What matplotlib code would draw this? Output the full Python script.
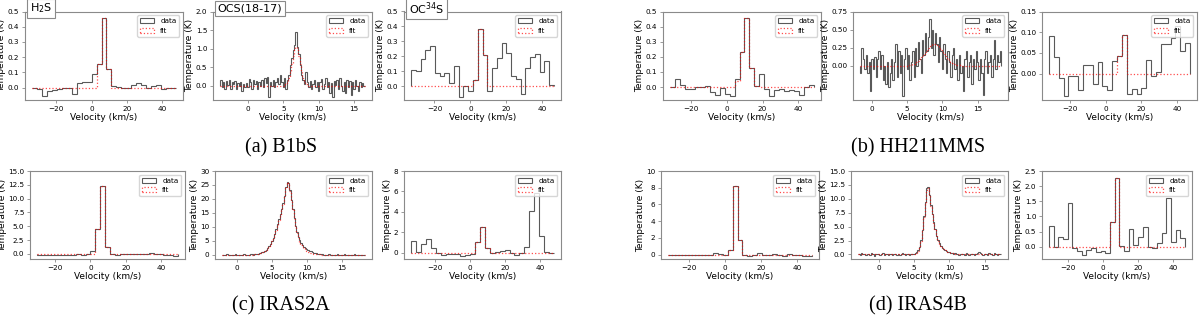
import numpy as np
import matplotlib.pyplot as plt
from matplotlib.ticker import MultipleLocator

# ---- B1bS ----
b1bs_h2s_v0, b1bs_h2s_dv = -33.6, 2.8
b1bs_h2s_data = [0.0, -0.01, -0.055, -0.02, -0.015, -0.01, -0.005, 0.0, -0.04, 0.03,
                 0.04, 0.04, 0.09, 0.155, 0.46, 0.12, 0.01, 0.005, 0.0, -0.005,
                 0.02, 0.03, 0.02, 0.0, 0.01, 0.02, -0.01, 0.0, -0.005]
b1bs_h2s_fit = [0.0] * 13 + [0.155, 0.46, 0.12] + [0.0] * 13

b1bs_ocs_v0, b1bs_ocs_dv = -3.9, 0.2
b1bs_ocs_data = [0.15, -0.05, 0.1, -0.1, 0.12, 0.02, 0.14, -0.08, 0.1, 0.05,
                 0.13, -0.1, 0.08, -0.02, 0.1, -0.15, 0.05, -0.05, 0.08, -0.05,
                 0.18, 0.1, -0.1, 0.15, 0.05, 0.12, -0.08, 0.1, 0.0, 0.15,
                 -0.05, 0.2, 0.08, 0.22, -0.3, 0.1, 0.0, 0.15, -0.05, 0.1,
                 0.2, 0.05, 0.28, 0.1, -0.05, 0.2, -0.1, 0.15, 0.3, 0.55,
                 0.75, 0.95, 1.1, 1.45, 1.05, 0.85, 0.55, 0.3, 0.15, 0.05,
                 0.38, 0.1, -0.05, 0.12, -0.1, 0.05, 0.15, -0.05, 0.1, -0.15,
                 0.1, 0.18, -0.1, 0.05, 0.2, -0.05, 0.1, -0.2, 0.08, -0.3,
                 0.12, 0.02, 0.15, -0.1, 0.2, 0.0, -0.15, 0.1, -0.2, 0.15,
                 -0.05, 0.12, -0.25, 0.1, -0.1, 0.15, 0.0, -0.15, 0.1, -0.05,
                 0.08, 0.0]
b1bs_ocs_fit = ([0.0] * 46
                + [0.04, 0.1, 0.2, 0.36, 0.58, 0.8, 0.98, 1.05, 0.98, 0.8,
                   0.58, 0.36, 0.2, 0.1, 0.04, 0.01]
                + [0.0] * 40)

b1bs_oc34s_v0, b1bs_oc34s_dv = -33.0, 2.65
b1bs_oc34s_data = [0.11, 0.10, 0.18, 0.245, 0.27, 0.085, 0.065, 0.09, 0.02, 0.135,
                   -0.07, 0.0, -0.03, 0.04, 0.38, 0.21, -0.03, 0.125, 0.19, 0.29,
                   0.22, 0.065, 0.05, -0.055, 0.125, 0.195, 0.215, 0.095, 0.17, 0.01]
b1bs_oc34s_fit = [0.0] * 13 + [0.04, 0.38, 0.21] + [0.0] * 14

# ---- HH211MMS ----
hh211_h2s_v0, hh211_h2s_dv = -31.5, 2.76
hh211_h2s_data = [0.0, 0.05, 0.015, -0.013, -0.01, 0.0, 0.0, 0.01, -0.035, -0.055,
                  -0.005, -0.045, -0.06, 0.055, 0.23, 0.46, 0.125, 0.01, 0.085, -0.013,
                  -0.057, -0.02, -0.01, -0.025, -0.02, -0.025, -0.05, 0.0, 0.015]
hh211_h2s_fit = [0.0] * 13 + [0.04, 0.23, 0.46, 0.125, 0.01] + [0.0] * 11

hh211_ocs_v0, hh211_ocs_dv = -1.7, 0.2
hh211_ocs_data = [-0.1, 0.25, 0.1, -0.05, 0.15, -0.1, 0.05, -0.35, 0.1, -0.05,
                  0.12, -0.15, 0.1, 0.2, -0.05, 0.15, -0.2, 0.0, -0.25, 0.05,
                  -0.3, -0.1, 0.1, -0.2, 0.05, 0.3, -0.15, 0.2, -0.1, 0.15,
                  -0.42, 0.1, 0.25, -0.05, 0.15, -0.2, 0.05, 0.2, -0.15, 0.25,
                  0.0, 0.33, 0.1, -0.1, 0.35, 0.15, 0.45, 0.2, 0.4, 0.65,
                  0.25, 0.5, 0.15, 0.45, 0.3, 0.05, 0.4, 0.2, -0.05, 0.3,
                  0.1, -0.1, 0.2, 0.05, -0.15, 0.15, 0.25, -0.05, 0.1, -0.2,
                  0.15, -0.1, 0.0, -0.35, 0.1, 0.2, -0.15, 0.05, 0.15, -0.25,
                  0.1, -0.05, 0.2, 0.05, -0.2, 0.1, -0.1, -0.4, 0.1, 0.2,
                  -0.1, 0.05, 0.15, -0.15, 0.1, 0.35, -0.05, 0.15, 0.05, 0.2]
hh211_ocs_wing = [0.004, 0.006, 0.010, 0.015, 0.021, 0.030, 0.041, 0.055, 0.072, 0.092,
                  0.115, 0.141, 0.168, 0.195, 0.222, 0.247, 0.269, 0.287, 0.297]
hh211_ocs_fit = [0.0] * 33 + hh211_ocs_wing + [0.3] + hh211_ocs_wing[::-1] + [0.0] * 28

hh211_oc34s_v0, hh211_oc34s_dv = -31.7, 2.72
hh211_oc34s_data = [0.09, 0.04, -0.01, -0.055, -0.005, -0.005, -0.04, 0.022, 0.02, -0.025,
                    0.027, -0.03, -0.04, 0.03, 0.043, 0.093, -0.05, -0.038, -0.05, -0.035,
                    0.033, -0.005, 0.005, 0.072, 0.072, 0.085, 0.115, 0.055, 0.075]
hh211_oc34s_fit = [0.0] * 14 + [0.043, 0.093] + [0.0] * 13

# ---- IRAS2A ----
iras2a_h2s_v0, iras2a_h2s_dv = -30.25, 2.75
iras2a_h2s_data = [-0.15, -0.2, -0.25, -0.2, -0.15, -0.2, -0.25, -0.15, -0.1, -0.15,
                   -0.05, 0.45, 4.5, 12.2, 1.2, -0.1, -0.15, -0.1, -0.05, 0.0,
                   -0.05, -0.1, 0.05, 0.1, 0.0, -0.05, -0.2, -0.15, -0.3]
iras2a_h2s_fit = [0.0] * 11 + [0.05, 4.5, 12.2, 1.2, 0.05] + [0.0] * 13

iras2a_ocs_v0, iras2a_ocs_dv = -2.1, 0.2
iras2a_ocs_data = [0.1, -0.1, 0.05, 0.15, -0.05, 0.0, 0.1, -0.15, 0.05, 0.2,
                   0.0, -0.1, 0.1, 0.05, -0.05, 0.15, 0.0, 0.1, -0.1, 0.05,
                   0.15,
                   0.2, 0.1, 0.3, 0.35, 0.45, 0.6, 0.8, 0.95, 1.2, 1.5,
                   1.9, 2.5, 3.2, 4.0, 5.0, 6.2, 7.6, 9.2, 11.0, 12.9,
                   14.6, 16.3, 18.5, 21.2, 24.3, 26.2, 25.6, 23.2, 19.8, 16.4,
                   13.2, 10.5, 8.3, 6.5, 5.2, 4.2, 3.5, 2.9, 2.5, 2.1,
                   1.8, 1.5, 1.25, 1.0, 0.8, 0.6, 0.5, 0.35, 0.3, 0.2,
                   0.15, 0.0, 0.1, -0.1, 0.05, 0.2, 0.0, -0.05, 0.1, 0.0,
                   -0.1, 0.15, 0.05, 0.0, -0.05, 0.1, 0.2, 0.0, -0.1, 0.05,
                   0.1, -0.05, 0.0, 0.15, -0.1, 0.05, 0.0, -0.15, 0.1, 0.0,
                   0.05]
iras2a_ocs_fit = ([0.0] * 21
                  + [0.1, 0.15, 0.25, 0.3, 0.4, 0.55, 0.7, 0.9, 1.15, 1.45,
                     1.85, 2.4, 3.1, 3.9, 4.9, 6.0, 7.3, 8.8, 10.5, 12.4,
                     14.2, 16.0, 18.3, 21.0, 24.0, 26.0, 25.5, 23.0, 19.5, 16.0,
                     12.8, 10.0, 7.8, 6.0, 4.7, 3.7, 3.0, 2.4, 1.9, 1.5,
                     1.2, 0.95, 0.75, 0.6, 0.45, 0.35, 0.25, 0.2, 0.15, 0.1]
                  + [0.0] * 31)

iras2a_oc34s_v0, iras2a_oc34s_dv = -33.4, 2.8
iras2a_oc34s_data = [1.15, 0.1, 0.85, 1.35, 0.5, 0.0, -0.2, -0.1, -0.15, -0.1,
                     -0.3, -0.2, -0.1, 1.1, 2.5, 0.5, 0.0, 0.05, 0.2, 0.3,
                     0.0, -0.25, 0.0, 0.6, 4.1, 5.8, 1.6, 0.1, -0.05]
iras2a_oc34s_fit = [0.0] * 13 + [1.1, 2.5, 0.5] + [0.0] * 13

# ---- IRAS4B ----
iras4b_h2s_v0, iras4b_h2s_dv = -31.8, 2.76
iras4b_h2s_data = [0.0, -0.05, -0.05, -0.05, -0.05, -0.05, -0.05, -0.05, -0.05, 0.25,
                   0.1, -0.05, 0.6, 8.25, 1.8, -0.05, -0.1, 0.0, 0.15, 0.0,
                   -0.05, 0.05, -0.05, -0.1, 0.05, 0.0, -0.05, -0.1, -0.1]
iras4b_h2s_fit = [0.0] * 12 + [0.6, 8.25, 1.8] + [0.0] * 14

iras4b_ocs_v0, iras4b_ocs_dv = -2.9, 0.2
iras4b_ocs_data = [0.1, -0.15, 0.2, 0.0, 0.1, -0.1, 0.15, 0.05, -0.05, 0.2,
                   0.0, -0.2, 0.1, 0.05, 0.15, -0.1, 0.0, 0.2, -0.05, 0.1,
                   0.0, -0.15, 0.1, 0.05, -0.1, 0.15, 0.0, -0.05, 0.1, -0.15,
                   0.05, 0.2, 0.0, -0.1, 0.1, 0.05, -0.05, 0.15, 0.1,
                   0.15, 0.3, 0.4, 0.8, 1.4, 2.6, 4.4, 6.9, 9.5, 11.9,
                   12.1, 10.7, 8.8, 7.3, 5.8, 4.5, 3.4, 2.6, 2.0, 1.5,
                   1.2, 1.0, 0.8, 0.6, 0.5, 0.5, 0.35, 0.3, 0.15, 0.25,
                   0.1,
                   0.05, -0.1, 0.15, 0.0, 0.1, -0.05, 0.2, 0.0, -0.1, 0.1,
                   0.05, 0.15, -0.05, 0.0, 0.3, 0.5, 0.2, 0.0, -0.1, 0.1,
                   0.05, -0.15, 0.2, 0.0, 0.1, -0.1, 0.25, 0.05, -0.05, 0.1,
                   0.0]
iras4b_ocs_fit = ([0.0] * 39
                  + [0.1, 0.2, 0.35, 0.7, 1.3, 2.5, 4.3, 6.7, 9.3, 11.6,
                     11.9, 10.6, 8.7, 7.2, 5.7, 4.4, 3.3, 2.5, 1.85, 1.45,
                     1.15, 0.9, 0.72, 0.58, 0.47, 0.38, 0.3, 0.24, 0.19, 0.15,
                     0.1]
                  + [0.0] * 31)

iras4b_oc34s_v0, iras4b_oc34s_dv = -31.0, 2.69
iras4b_oc34s_data = [0.68, -0.02, 0.33, 0.25, 1.45, -0.05, -0.15, -0.28, -0.1, -0.05,
                     -0.18, -0.15, -0.2, 0.82, 2.27, 0.03, -0.15, 0.57, 0.05, 0.33,
                     0.65, 0.0, -0.03, 0.13, 0.45, 1.62, 0.17, 0.56, 0.3]
iras4b_oc34s_fit = [0.0] * 13 + [0.82, 2.27] + [0.0] * 14

titles_b1bs = ['H$_2$S', 'OCS(18-17)', 'OC$^{34}$S']
captions = ['(a) B1bS', '(b) HH211MMS', '(c) IRAS2A', '(d) IRAS4B']

FRAME = '#8a8a8a'


def draw_spectrum(ax, v0, dv, data, fit, yticks, xstep, title=None):
    e_d = v0 + dv * np.arange(len(data) + 1)
    e_f = v0 + dv * np.arange(len(fit) + 1)
    ax.hist(0.5 * (e_d[:-1] + e_d[1:]), bins=e_d, weights=data, histtype='step',
            color='black', alpha=0.65, lw=0.8, label='data')
    ax.hist(0.5 * (e_f[:-1] + e_f[1:]), bins=e_f, weights=fit, histtype='step',
            color='red', ls=':', alpha=0.7, lw=0.9, label='fit')
    ax.set_ylim(top=yticks[-1])
    ax.set_yticks(yticks)
    ax.xaxis.set_major_locator(MultipleLocator(xstep))
    ax.set_xlabel('Velocity (km/s)', fontsize=6.5, labelpad=1)
    ax.set_ylabel('Temperature (K)', fontsize=6.5, labelpad=1)
    ax.tick_params(labelsize=5.2, length=2.5, width=0.6, color=FRAME, pad=1.5)
    for s in ax.spines.values():
        s.set_color(FRAME)
        s.set_linewidth(0.8)
    ax.legend(loc='upper right', fontsize=5.2)
    if title:
        ax.text(0.03, 1.035, title, transform=ax.transAxes, fontsize=8,
                ha='left', va='center',
                bbox=dict(boxstyle='square,pad=0.25', fc='white', ec=FRAME, lw=0.8))


fig = plt.figure(figsize=(12, 3.17), dpi=100)
W, H = 1200, 317


def add_ax(x0, x1, ytop, ybot):
    return fig.add_axes([x0 / W, 1 - ybot / H, (x1 - x0) / W, (ybot - ytop) / H])


# row 1
ax = add_ax(25, 183, 11.5, 100)
draw_spectrum(ax, b1bs_h2s_v0, b1bs_h2s_dv, b1bs_h2s_data, b1bs_h2s_fit,
              [0.0, 0.1, 0.2, 0.3, 0.4, 0.5], 20, titles_b1bs[0])
ax = add_ax(213, 372, 11.5, 100)
draw_spectrum(ax, b1bs_ocs_v0, b1bs_ocs_dv, b1bs_ocs_data, b1bs_ocs_fit,
              [0.0, 0.5, 1.0, 1.5, 2.0], 5, titles_b1bs[1])
ax = add_ax(404, 561, 11.5, 100)
draw_spectrum(ax, b1bs_oc34s_v0, b1bs_oc34s_dv, b1bs_oc34s_data, b1bs_oc34s_fit,
              [0.0, 0.1, 0.2, 0.3, 0.4, 0.5], 20, titles_b1bs[2])

ax = add_ax(663, 821, 11.5, 100)
draw_spectrum(ax, hh211_h2s_v0, hh211_h2s_dv, hh211_h2s_data, hh211_h2s_fit,
              [0.0, 0.1, 0.2, 0.3, 0.4, 0.5], 20)
ax = add_ax(853, 1008, 11.5, 100)
draw_spectrum(ax, hh211_ocs_v0, hh211_ocs_dv, hh211_ocs_data, hh211_ocs_fit,
              [0.0, 0.25, 0.5, 0.75], 5)
ax = add_ax(1042, 1197, 11.5, 100)
draw_spectrum(ax, hh211_oc34s_v0, hh211_oc34s_dv, hh211_oc34s_data, hh211_oc34s_fit,
              [0.0, 0.05, 0.1, 0.15], 20)

# row 2
ax = add_ax(30, 185, 171, 259)
draw_spectrum(ax, iras2a_h2s_v0, iras2a_h2s_dv, iras2a_h2s_data, iras2a_h2s_fit,
              [0.0, 2.5, 5.0, 7.5, 10.0, 12.5, 15.0], 20)
ax = add_ax(215, 372, 171, 259)
draw_spectrum(ax, iras2a_ocs_v0, iras2a_ocs_dv, iras2a_ocs_data, iras2a_ocs_fit,
              [0, 5, 10, 15, 20, 25, 30], 5)
ax = add_ax(404, 561, 171, 259)
draw_spectrum(ax, iras2a_oc34s_v0, iras2a_oc34s_dv, iras2a_oc34s_data, iras2a_oc34s_fit,
              [0, 2, 4, 6, 8], 20)

ax = add_ax(661, 819, 171, 259)
draw_spectrum(ax, iras4b_h2s_v0, iras4b_h2s_dv, iras4b_h2s_data, iras4b_h2s_fit,
              [0, 2, 4, 6, 8, 10], 20)
ax = add_ax(851, 1008, 171, 259)
draw_spectrum(ax, iras4b_ocs_v0, iras4b_ocs_dv, iras4b_ocs_data, iras4b_ocs_fit,
              [0.0, 2.5, 5.0, 7.5, 10.0, 12.5, 15.0], 5)
ax = add_ax(1042, 1192, 171, 259)
draw_spectrum(ax, iras4b_oc34s_v0, iras4b_oc34s_dv, iras4b_oc34s_data, iras4b_oc34s_fit,
              [0.0, 0.5, 1.0, 1.5, 2.0, 2.5], 20)

for (cx, cy), txt in zip([(281, 148), (918, 148), (281, 306), (918, 306)], captions):
    fig.text(cx / W, 1 - cy / H, txt, ha='center', va='center', fontsize=14.5,
             family='Liberation Serif')

fig.savefig('out.png', dpi=100)
